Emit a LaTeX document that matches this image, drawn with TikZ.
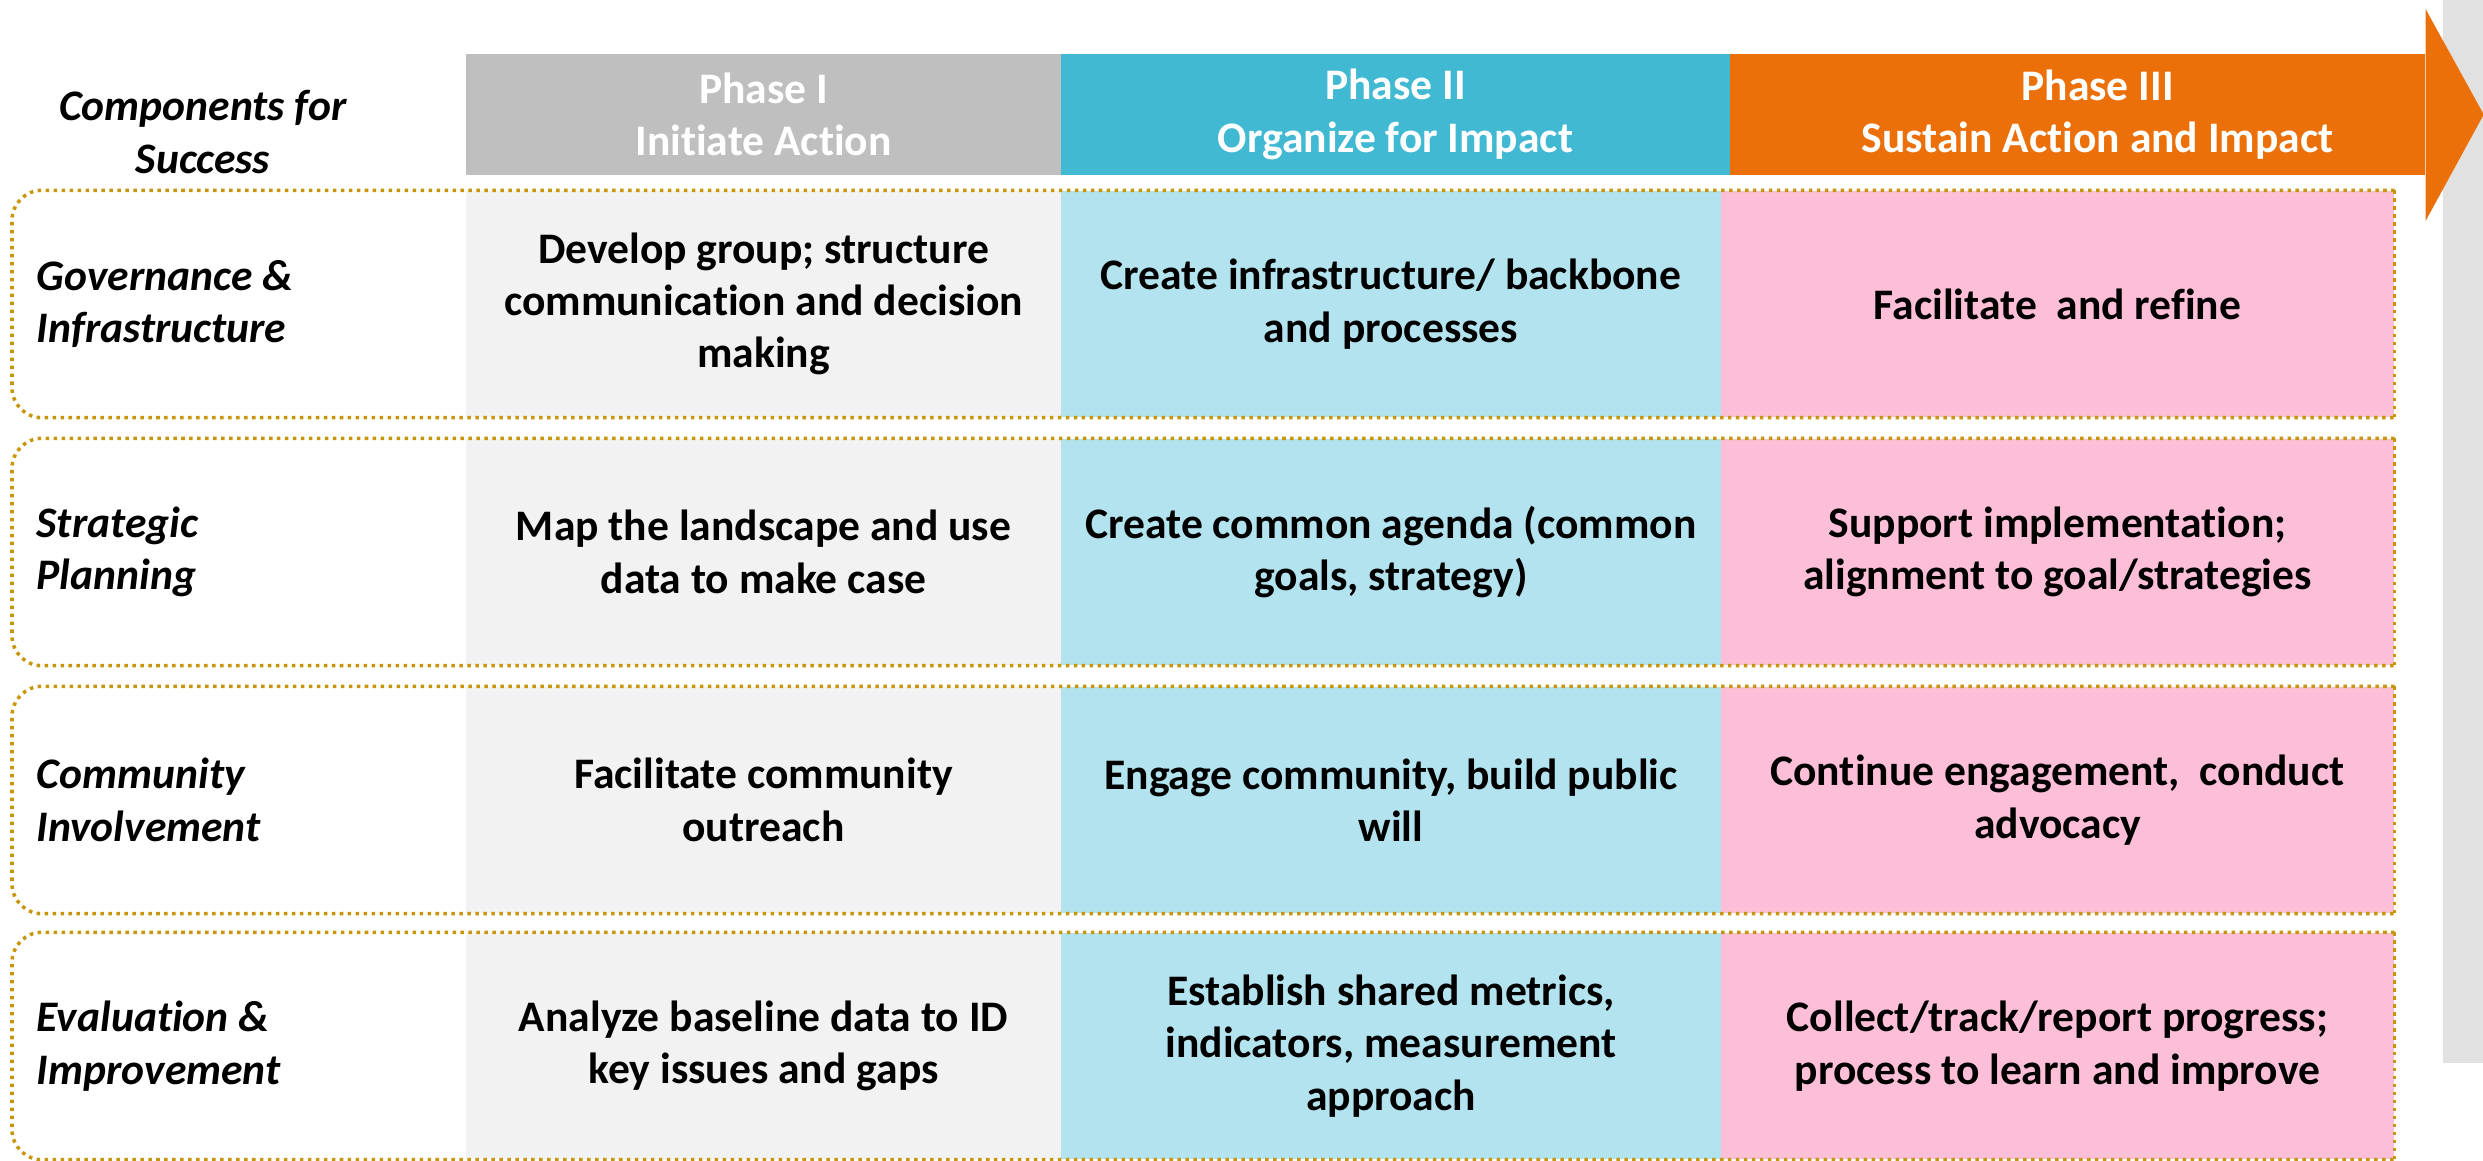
\documentclass[tikz,border=0pt]{standalone}
\usepackage{fontspec}
\setmainfont{Carlito}[Ligatures=NoCommon]
\usetikzlibrary{positioning}

\definecolor{phasegray}{HTML}{BFBFBF}
\definecolor{phaseblue}{HTML}{41B9D3}
\definecolor{phaseorange}{HTML}{EC700A}
\definecolor{cellgray}{HTML}{F2F2F2}
\definecolor{cellblue}{HTML}{B3E3EE}
\definecolor{cellpink}{HTML}{FCBFD7}
\definecolor{frameline}{HTML}{C8960C}
\definecolor{panelgray}{HTML}{E1E1E1}

\begin{document}
\begin{tikzpicture}[every node/.style={font=\fontsize{12.4}{14.9}\selectfont\bfseries, align=center, inner sep=0pt},
    phasebox/.style={text=white, minimum height=1.21cm},
    cellbox/.style={minimum height=2.26cm},
    stage one/.style={cellbox, fill=cellgray, minimum width=5.95cm},
    stage two/.style={cellbox, fill=cellblue, minimum width=6.60cm},
    stage three/.style={cellbox, fill=cellpink, minimum width=6.73cm},
    complabel/.style={font=\fontsize{12.4}{14.9}\selectfont\bfseries\itshape, align=left, anchor=west},
    rowframe/.style={draw=frameline, line width=1pt, dash pattern=on 1pt off 1.27pt},]
\useasboundingbox (0,0) rectangle (24.83,11.60);
\coordinate (edge) at (0.12,0);

% grey strip behind the arrow head
\fill[panelgray] (24.43,11.60) rectangle (24.83,0.97);

% phases
\node[phasebox, fill=phasegray, minimum width=5.95cm] (p1) at (7.635,10.455) {Phase I\\Initiate Action};
\node[phasebox, fill=phaseblue, minimum width=6.69cm, right=-0.4pt of p1] (p2) {Phase II\\Organize for Impact};
\node[phasebox, fill=phaseorange, minimum width=6.95cm, right=-0.4pt of p2] (p3) {};
\fill[phaseorange] ([yshift=4.4mm]p3.north east) -- ([xshift=5.8mm]p3.east) -- ([yshift=-4.5mm]p3.south east) -- cycle;
\node[text=white] (p3text) at ([xshift=2mm]p3.center) {Phase III\\Sustain Action and Impact};

\node[complabel, anchor=center, align=center] (cfs) at (2.03,10.28) {Components for\\Success};

% governance
\node[complabel] (gov) at (0.36,8.56) {Governance \&\\Infrastructure};
\node[stage one] (gov1) at (7.635,8.56) {Develop group; structure\\communication and decision\\making};
\node[stage two, right=-0.4pt of gov1] (gov2) {Create infrastructure/ backbone\\and processes};
\node[stage three, right=-0.4pt of gov2] (gov3) {Facilitate~ and refine};
\draw[rowframe, rounded corners=3mm] (gov3.north east) -- (gov3.north -| edge) -- (gov3.south -| edge) -- (gov3.south east);
\draw[rowframe] (gov3.north east) -- (gov3.south east);

% planning
\node[complabel] (plan) at (0.36,6.08) {Strategic\\Planning};
\node[stage one] (plan1) at (7.635,6.08) {Map the landscape and use\\data to make case};
\node[stage two, right=-0.4pt of plan1] (plan2) {Create common agenda (common\\goals, strategy)};
\node[stage three, right=-0.4pt of plan2] (plan3) {Support implementation;\\alignment to goal/strategies};
\draw[rowframe, rounded corners=3mm] (plan3.north east) -- (plan3.north -| edge) -- (plan3.south -| edge) -- (plan3.south east);
\draw[rowframe] (plan3.north east) -- (plan3.south east);

% community
\node[complabel] (comm) at (0.36,3.60) {Community\\Involvement};
\node[stage one] (comm1) at (7.635,3.60) {Facilitate community\\outreach};
\node[stage two, right=-0.4pt of comm1] (comm2) {Engage community, build public\\will};
\node[stage three, right=-0.4pt of comm2] (comm3) {Continue engagement,~ conduct\\advocacy};
\draw[rowframe, rounded corners=3mm] (comm3.north east) -- (comm3.north -| edge) -- (comm3.south -| edge) -- (comm3.south east);
\draw[rowframe] (comm3.north east) -- (comm3.south east);

% evaluation
\node[complabel] (eval) at (0.36,1.14) {Evaluation \&\\Improvement};
\node[stage one] (eval1) at (7.635,1.14) {Analyze baseline data to ID\\key issues and gaps};
\node[stage two, right=-0.4pt of eval1] (eval2) {Establish shared metrics,\\indicators, measurement\\approach};
\node[stage three, right=-0.4pt of eval2] (eval3) {Collect/track/report progress;\\process to learn and improve};
\draw[rowframe, rounded corners=3mm] (eval3.north east) -- (eval3.north -| edge) -- (eval3.south -| edge) -- (eval3.south east);
\draw[rowframe] (eval3.north east) -- (eval3.south east);

\end{tikzpicture}
\end{document}
